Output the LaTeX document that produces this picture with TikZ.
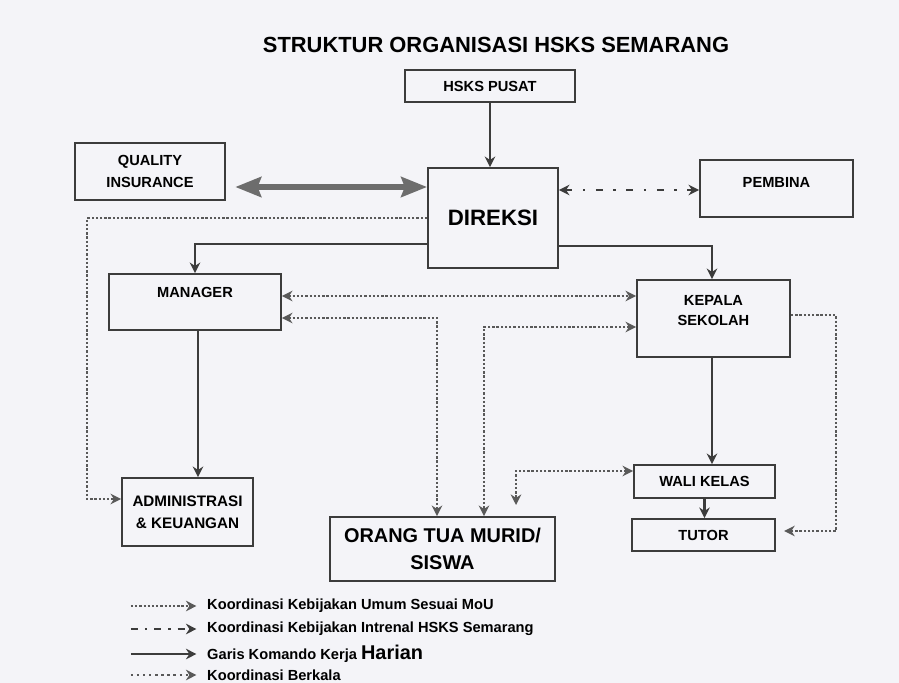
\documentclass[tikz,border=0pt]{standalone}
\usepackage{fontspec}
\setmainfont{Liberation Sans}
\usetikzlibrary{arrows.meta}
\definecolor{kertas}{RGB}{244,244,248}
\definecolor{tinta}{RGB}{60,60,60}

\begin{document}
\begin{tikzpicture}[x=0.03cm,y=-0.03cm,
    >={Stealth[length=9pt,width=9pt]},
    kotak/.style={draw=tinta, line width=1.6pt, align=center, inner sep=0pt,
      font=\bfseries\fontsize{12.5}{17}\selectfont},
    komando/.style={draw=tinta, line width=2pt},
    koord/.style={draw=tinta!85, line width=2.3pt, dash pattern=on 2pt off 1.6pt},
    internal/.style={draw=tinta, line width=1.8pt, dash pattern=on 6pt off 9pt on 2pt off 9pt},
    berkala/.style={draw=tinta!85, line width=2pt, dash pattern=on 2pt off 3.2pt},
    mutu/.style={draw=tinta!75, line width=5pt,
      {Stealth[length=22pt,width=17pt,inset=3pt]}-{Stealth[length=22pt,width=17pt,inset=3pt]}},
    ket/.style={anchor=west, inner sep=0pt, font=\bfseries\fontsize{12.5}{15}\selectfont}]

    \path[use as bounding box, fill=kertas] (0,0) rectangle (899,683);

    \node[font=\bfseries\fontsize{18.7}{22}\selectfont] (judul) at (496,45) {STRUKTUR ORGANISASI HSKS SEMARANG};

    % kotak-kotak
    \node[kotak, minimum width=5.1cm, minimum height=0.96cm] (pusat) at (490,86) {HSKS PUSAT};
    \node[kotak, minimum width=4.5cm, minimum height=1.71cm, font=\bfseries\fontsize{12.5}{19.5}\selectfont] (mutu) at (150,171.5) {QUALITY\\INSURANCE};
    \node[kotak, minimum width=3.9cm, minimum height=3cm, font=\bfseries\fontsize{19}{23}\selectfont] (direksi) at (493,218) {DIREKSI};
    \node[kotak, minimum width=4.59cm, minimum height=1.71cm, text depth=11pt] (pembina) at (776.5,188.5) {PEMBINA};
    \node[kotak, minimum width=5.16cm, minimum height=1.68cm, text depth=17pt] (manager) at (195,302) {MANAGER};
    \node[kotak, minimum width=4.59cm, minimum height=2.31cm, text depth=14pt] (kepala) at (713.5,318.5) {KEPALA\\SEKOLAH};
    \node[kotak, minimum width=3.93cm, minimum height=2.04cm, font=\bfseries\fontsize{13}{19}\selectfont] (admin) at (187.5,512) {ADMINISTRASI\\\& KEUANGAN};
    \node[kotak, minimum width=6.75cm, minimum height=1.92cm, font=\bfseries\fontsize{17}{23}\selectfont] (ortu) at (442.5,549) {ORANG TUA MURID/\\SISWA};
    \node[kotak, minimum width=4.23cm, minimum height=0.99cm] (wali) at (704.5,481.5) {WALI KELAS};
    \node[kotak, minimum width=4.29cm, minimum height=0.96cm] (tutor) at (703.5,535) {TUTOR};
    \coordinate (ujung) at (516,505);

    % garis komando
    \draw[komando,->, line width=1.2pt] (pusat.south) -- (pusat.south |- direksi.north);
    \draw[komando,->] (direksi.west |- 0,244) -| (manager.north);
    \draw[komando,->] (direksi.east |- 0,246) -| (kepala.north -| 712,0);
    \draw[komando,->] (manager.south -| 198,0) -- (admin.north -| 198,0);
    \draw[komando,->] (kepala.south -| 712,0) -- (wali.north -| 712,0);
    \draw[komando,->] (wali.south) -- (wali.south |- tutor.north);

    \draw[mutu, shorten <=8pt] (mutu.east |- 0,187) -- (direksi.west |- 0,187);
    \draw[internal,<->] (direksi.east |- 0,190) -- (pembina.west |- 0,190);

    % koordinasi
    \draw[koord,->] (direksi.west) -| (87,499) -- (admin.west |- 0,499);
    \draw[koord,<->] (manager.east |- 0,296) -- (kepala.west |- 0,296);
    \draw[koord,<->] (manager.east |- 0,318) -| (ortu.north -| 437,0);
    \draw[koord,<->] (kepala.west |- 0,327) -| (ortu.north -| 484,0);
    \draw[koord,<->] (wali.west |- 0,471) -| (ujung);
    \draw[koord,->, shorten >=7pt] (kepala.east |- 0,315) -| (836,531) -- (tutor.east |- 0,531);

    % keterangan
    \node[ket] (ket1) at (207,606) {Koordinasi Kebijakan Umum Sesuai MoU};
    \node[ket] (ket2) at (207,629) {Koordinasi Kebijakan Intrenal HSKS Semarang};
    \node[ket] (ket3) at (207,654) {Garis Komando Kerja {\fontsize{17}{17}\selectfont Harian}};
    \node[ket] (ket4) at (207,675) {Koordinasi Berkala};
    \draw[koord,->] ([xshift=-65pt]ket1.west) -- ([xshift=-9pt]ket1.west);
    \draw[internal,->, dash pattern=on 6pt off 6pt on 2pt off 6pt] ([xshift=-65pt]ket2.west) -- ([xshift=-9pt]ket2.west);
    \draw[komando,->] ([xshift=-65pt]ket3.west) -- ([xshift=-9pt]ket3.west);
    \draw[berkala,->] ([xshift=-65pt]ket4.west) -- ([xshift=-9pt]ket4.west);
\end{tikzpicture}
\end{document}
